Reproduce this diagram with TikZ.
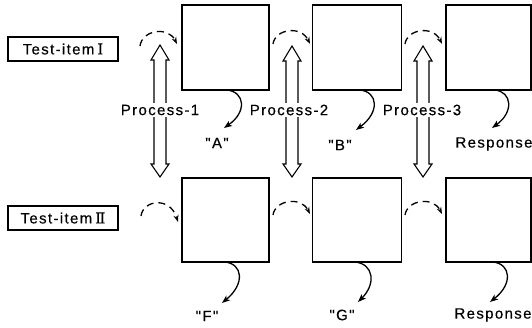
\documentclass[tikz,border=0pt]{standalone}
\usepackage{fontspec}
\usetikzlibrary{arrows.meta,calc}
\newfontfamily\lblfont[LetterSpace=9,FakeBold=0.4]{Liberation Sans}
\newfontfamily\romfont[FakeBold=0.4]{DejaVu Serif}
\newcommand\dblarr[2]{%
  \draw[dblarrow] (#1) -- ++(9,15) -- ++(-3,0) -- ($(#2)+(6,-13)$) -- ++(3,0) -- (#2)
    -- ++(-9,-13) -- ++(3,0) -- ($(#1)+(-6,15)$) -- ++(-3,0) -- cycle;}
\begin{document}
\begin{tikzpicture}[x=1pt,y=-1pt,
  box/.style={draw, line width=1.4pt, inner sep=0pt},
  item/.style={draw, line width=1.2pt, minimum width=110pt, minimum height=24pt, inner sep=0pt,
    font=\fontsize{15}{17}\lblfont},
  lbl/.style={font=\fontsize{15}{17}\lblfont, inner sep=1pt},
  proc/.style={lbl, fill=white, inner sep=2pt},
  dashedarc/.style={line width=1.3pt, dash pattern=on 7pt off 5pt, -{Stealth[length=7pt,width=5pt]}},
  curv/.style={line width=1.3pt, -{Stealth[length=8pt,width=6pt,inset=2pt]}},
  dblarrow/.style={line width=1.1pt, line join=miter}]
\useasboundingbox (0,0) rectangle (532,328);

% boxes
\node[box, minimum width=87pt, minimum height=85pt] (t1) at (225.5,47.5) {};
\node[box, minimum width=89pt, minimum height=85pt] (t2) at (357,47.5) {};
\node[box, minimum width=85pt, minimum height=85pt] (t3) at (488.5,47.5) {};
\node[box, minimum width=87pt, minimum height=84pt] (b1) at (225.5,220) {};
\node[box, minimum width=89pt, minimum height=84pt] (b2) at (357,220) {};
\node[box, minimum width=85pt, minimum height=84pt] (b3) at (488.5,220) {};

% test item labels
\node[item] (ti1) at (63,49) {Test-item\kern3pt{\romfont Ⅰ}};
\node[item] (ti2) at (63,218) {Test-item\kern3pt{\romfont Ⅱ}};

% dashed arcs (top)
\coordinate (ds1) at (140,46);  \coordinate (de1) at (177,44);
\coordinate (ds2) at (273,44);  \coordinate (de2) at (310,44);
\coordinate (ds3) at (405,44);  \coordinate (de3) at (442,44);
\draw[dashedarc] (ds1) .. controls (142,30) and (168,26) .. (de1);
\draw[dashedarc] (ds2) .. controls (275,29) and (301,25) .. (de2);
\draw[dashedarc] (ds3) .. controls (407,29) and (433,25) .. (de3);
% dashed arcs (bottom)
\coordinate (es1) at (141,216); \coordinate (ee1) at (178,222);
\coordinate (es2) at (273,215); \coordinate (ee2) at (310,214);
\coordinate (es3) at (405,215); \coordinate (ee3) at (442,214);
\draw[dashedarc] (es1) .. controls (143,200) and (170,196) .. (ee1);
\draw[dashedarc] (es2) .. controls (275,200) and (301,196) .. (ee2);
\draw[dashedarc] (es3) .. controls (407,200) and (433,196) .. (ee3);

% double arrows
\coordinate (u1) at (160,45);  \coordinate (v1) at (160,177);
\coordinate (u2) at (292,46);  \coordinate (v2) at (292,177);
\coordinate (u3) at (423,46);  \coordinate (v3) at (423,177);
\dblarr{u1}{v1}
\dblarr{u2}{v2}
\dblarr{u3}{v3}

% process labels
\node[proc] (p1) at (160,110) {Process-1};
\node[proc] (p2) at (289,110) {Process-2};
\node[proc] (p3) at (422,110) {Process-3};

% output labels
\node[lbl] (oA) at (217,143) {"A"};
\node[lbl] (oB) at (340,145) {"B"};
\node[lbl] (oR1) at (494,144) {Response};
\node[lbl] (oF) at (207,316) {"F"};
\node[lbl] (oG) at (342,315) {"G"};
\node[lbl] (oR2) at (493,315) {Response};

% curved arrows
\coordinate (ca) at (227,90);  \coordinate (cae) at (224,128);
\coordinate (cb) at (360,90);  \coordinate (cbe) at (356,130);
\coordinate (cc) at (495,90);  \coordinate (cce) at (492,128);
\coordinate (cf) at (225,262); \coordinate (cfe) at (222,303);
\coordinate (cg) at (355,262); \coordinate (cge) at (358,302);
\coordinate (cr) at (493,262); \coordinate (cre) at (490,302);
\draw[curv] (ca) .. controls (245,92) and (247,112) .. (cae);
\draw[curv] (cb) .. controls (378,92) and (380,112) .. (cbe);
\draw[curv] (cc) .. controls (512,92) and (514,112) .. (cce);
\draw[curv] (cf) .. controls (243,264) and (245,284) .. (cfe);
\draw[curv] (cg) .. controls (374,264) and (376,284) .. (cge);
\draw[curv] (cr) .. controls (511,264) and (513,284) .. (cre);
\end{tikzpicture}
\end{document}
